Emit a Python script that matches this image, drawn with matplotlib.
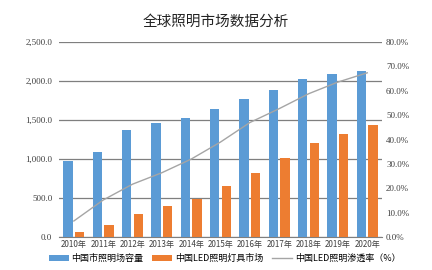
import numpy as np
import matplotlib.pyplot as plt
from matplotlib.ticker import FuncFormatter

plt.rcParams['font.family'] = ['Noto Sans CJK SC', 'DejaVu Sans']

years = ['2010年', '2011年', '2012年', '2013年', '2014年', '2015年',
         '2016年', '2017年', '2018年', '2019年', '2020年']
market_total = [975, 1090, 1368, 1466, 1521, 1645, 1765, 1890, 2022, 2090, 2124]
market_led = [65, 158, 291, 401, 487, 650, 817, 1009, 1209, 1325, 1432]
led_share = [6.6, 15.2, 21.7, 26.4, 32.0, 39.0, 47.0, 52.7, 58.8, 63.6, 67.4]

blue = '#5B9BD5'
orange = '#ED7D31'
gray = '#A5A5A5'

fig = plt.figure(figsize=(4.32, 2.70), dpi=100)
ax1 = fig.add_axes([0.137, 0.122, 0.747, 0.722])
ax2 = ax1.twinx()

x = np.arange(len(years))
w = 0.32
ax1.bar(x - 0.2, market_total, width=w, color=blue, zorder=3, label='中国市照明场容量')
ax1.bar(x + 0.2, market_led, width=w, color=orange, zorder=3, label='中国LED照明灯具市场')
ax2.plot(x, led_share, color=gray, lw=1.0, label='中国LED照明渗透率（%）')

ax1.set_xlim(-0.5, len(years) - 0.5)
ax1.set_ylim(0, 2500)
ax1.set_yticks(np.arange(0, 2501, 500))
ax1.yaxis.set_major_formatter(FuncFormatter(lambda v, p: f'{v:,.1f}'))
ax1.grid(axis='y', color='#7f7f7f', lw=0.9, zorder=0)
ax1.set_axisbelow(True)
ax2.set_ylim(0, 80)
ax2.set_yticks(np.arange(0, 81, 10))
ax2.yaxis.set_major_formatter(FuncFormatter(lambda v, p: f'{v:.1f}%'))

ax1.set_xticks(x)
ax1.set_xticklabels(years)
for ax in (ax1, ax2):
    for s in ax.spines.values():
        s.set_visible(False)
    ax.tick_params(length=0, labelsize=6.5, colors='#404040')
ax1.tick_params(axis='x', labelsize=5.8, pad=2)
ax1.spines['bottom'].set_visible(True)
ax1.spines['bottom'].set_color('#7f7f7f')
for lab in ax1.get_yticklabels() + ax2.get_yticklabels():
    lab.set_family('Liberation Serif')
ax1.tick_params(axis='y', pad=5)
ax2.tick_params(axis='y', pad=3)

fig.text(0.5, 0.92, '全球照明市场数据分析', ha='center', va='center', fontsize=10.5, color='#222222')

h1, l1 = ax1.get_legend_handles_labels()
h2, l2 = ax2.get_legend_handles_labels()
fig.legend(h1 + h2, l1 + l2, loc='center', bbox_to_anchor=(0.52, 0.042), ncol=3,
           frameon=False, fontsize=6.5, handlelength=2.2, handleheight=0.6,
           columnspacing=1.0, handletextpad=0.3)

fig.savefig('out.png', dpi=100)
